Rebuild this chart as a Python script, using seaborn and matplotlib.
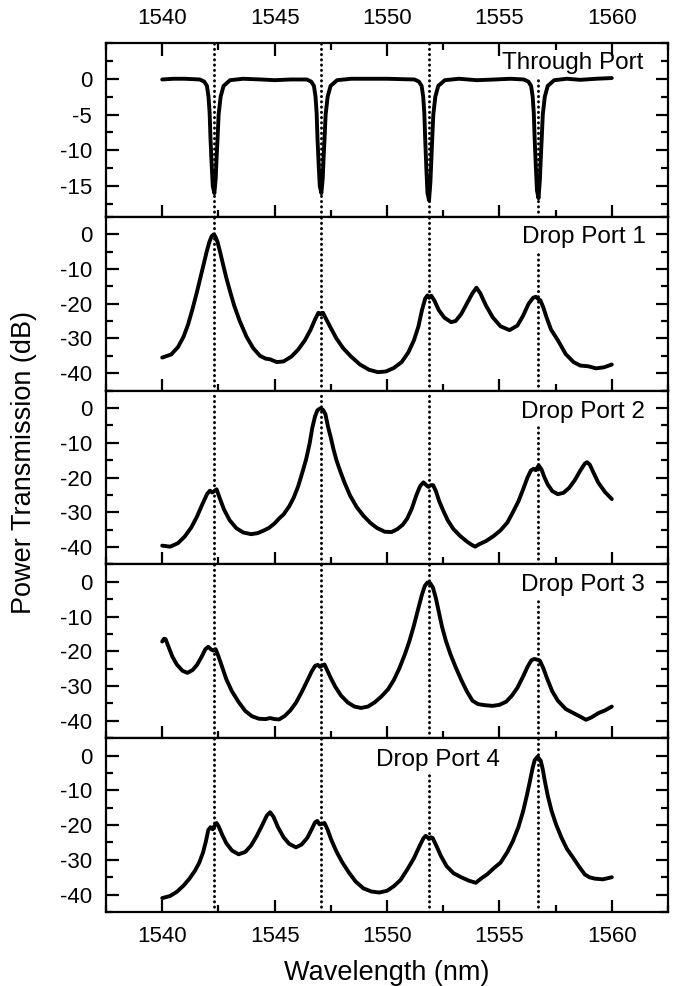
import numpy as np
import pandas as pd
import matplotlib
matplotlib.use("Agg")
import matplotlib.pyplot as plt
import seaborn as sns
from matplotlib.ticker import MultipleLocator

# ---------------------------------------------------------
# Data (wavelength in nm, power in dB)
# ---------------------------------------------------------
resonances = [1542.3, 1547.06, 1551.86, 1556.73]
tick_wl = [1540, 1545, 1550, 1555, 1560]

thru_wl = [1540.0, 1540.5, 1541.0,
           1541.67, 1541.87, 1541.99, 1542.06, 1542.11, 1542.15, 1542.2, 1542.25,
           1542.32, 1542.38, 1542.42, 1542.46, 1542.51, 1542.6, 1542.73, 1543.02,
           1543.6, 1544.4, 1545.0, 1545.7,
           1546.43, 1546.63, 1546.75, 1546.82, 1546.87, 1546.91, 1546.96, 1547.01,
           1547.08, 1547.14, 1547.18, 1547.22, 1547.27, 1547.36, 1547.49, 1547.78,
           1548.4, 1549.2, 1550.0, 1550.6,
           1551.22, 1551.42, 1551.54, 1551.61, 1551.66, 1551.7, 1551.75, 1551.8,
           1551.87, 1551.93, 1551.97, 1552.01, 1552.06, 1552.15, 1552.28, 1552.57,
           1553.2, 1554.0, 1554.8, 1555.5,
           1556.09, 1556.29, 1556.41, 1556.48, 1556.53, 1556.57, 1556.62, 1556.67,
           1556.74, 1556.8, 1556.84, 1556.88, 1556.93, 1557.02, 1557.15, 1557.44,
           1558.0, 1558.6, 1559.3, 1560.0]
thru_db = [-0.1, 0.0, 0.0,
           -0.1, -0.4, -1.0, -2.5, -4.8, -8.5, -12.0, -15.0,
           -16.0, -14.0, -11.0, -8.5, -5.0, -2.5, -1.0, -0.2,
           0.0, -0.1, -0.2, -0.1,
           -0.1, -0.4, -1.0, -2.5, -4.8, -8.5, -12.0, -15.0,
           -16.0, -14.0, -11.0, -8.5, -5.0, -2.5, -1.0, -0.2,
           0.0, 0.0, 0.0, -0.05,
           -0.1, -0.4, -1.0, -2.5, -4.8, -8.5, -12.5, -16.0,
           -17.0, -14.5, -11.5, -8.5, -5.0, -2.5, -1.0, -0.2,
           0.0, -0.2, -0.1, 0.0,
           -0.1, -0.4, -1.0, -2.5, -4.8, -8.5, -12.2, -15.6,
           -16.7, -14.2, -11.2, -8.5, -5.0, -2.5, -1.0, -0.2,
           0.0, -0.15, 0.0, 0.1]

drop1_wl = [1540.0, 1540.4, 1540.7, 1540.95, 1541.15, 1541.35, 1541.55, 1541.7, 1541.85,
            1541.98, 1542.1, 1542.2, 1542.28, 1542.36, 1542.46, 1542.57, 1542.7, 1542.85,
            1543.02, 1543.2, 1543.45, 1543.75, 1544.05, 1544.35, 1544.6, 1544.8, 1545.1,
            1545.4, 1545.75, 1546.05, 1546.35, 1546.6, 1546.8, 1546.95, 1547.05, 1547.15,
            1547.3, 1547.5, 1547.75, 1548.05, 1548.4, 1548.8, 1549.2, 1549.6, 1549.95,
            1550.3, 1550.65, 1550.95, 1551.2, 1551.4, 1551.55, 1551.7, 1551.8, 1551.88,
            1551.97, 1552.1, 1552.3, 1552.55, 1552.85, 1553.05, 1553.3, 1553.55, 1553.8,
            1553.98, 1554.15, 1554.4, 1554.7, 1555.05, 1555.45, 1555.8, 1556.05, 1556.3,
            1556.5, 1556.62, 1556.72, 1556.82, 1556.95, 1557.1, 1557.3, 1557.6, 1557.95,
            1558.3, 1558.6, 1558.95, 1559.3, 1559.65, 1560.0]
drop1_db = [-35.5, -34.6, -32.5, -29.5, -26.0, -21.5, -16.5, -12.5, -8.5,
            -5.0, -2.2, -0.6, -0.1, -0.6, -2.2, -5.0, -8.5, -12.5,
            -16.5, -20.5, -25.0, -29.5, -32.8, -35.0, -35.8, -36.0, -36.8,
            -36.6, -35.2, -33.2, -30.5, -27.5, -24.5, -22.6, -23.0, -22.6,
            -24.5, -27.0, -30.0, -32.8, -35.2, -37.5, -39.0, -39.7, -39.5,
            -38.5, -36.8, -34.0, -30.5, -26.5, -22.0, -18.5, -17.6, -18.3,
            -17.7, -19.0, -21.8, -24.0, -25.3, -25.0, -23.0, -20.0, -17.0,
            -15.4, -17.0, -20.5, -23.9, -26.5, -27.6, -26.3, -23.5, -20.0,
            -18.3, -18.0, -18.6, -19.0, -21.0, -24.0, -27.5, -30.5, -34.5,
            -36.8, -37.8, -38.0, -38.6, -38.3, -37.5]

drop2_wl = [1540.0, 1540.35, 1540.7, 1541.0, 1541.3, 1541.55, 1541.8, 1542.0, 1542.12,
            1542.22, 1542.3, 1542.42, 1542.55, 1542.75, 1543.0, 1543.3, 1543.6, 1543.95,
            1544.25, 1544.5, 1544.75, 1545.0, 1545.2, 1545.4, 1545.65, 1545.85, 1546.05,
            1546.25, 1546.4, 1546.55, 1546.68, 1546.8, 1546.9, 1547.03, 1547.15, 1547.26,
            1547.38, 1547.5, 1547.62, 1547.75, 1547.92, 1548.1, 1548.35, 1548.65, 1548.95,
            1549.25, 1549.55, 1549.9, 1550.2, 1550.45, 1550.7, 1550.9, 1551.1, 1551.3,
            1551.47, 1551.62, 1551.75, 1551.84, 1551.95, 1552.05, 1552.18, 1552.32, 1552.5,
            1552.7, 1552.95, 1553.25, 1553.55, 1553.75, 1553.92, 1554.1, 1554.4, 1554.75,
            1555.05, 1555.35, 1555.6, 1555.85, 1556.05, 1556.25, 1556.4, 1556.52, 1556.62,
            1556.75, 1556.88, 1557.0, 1557.15, 1557.35, 1557.6, 1557.85, 1558.1, 1558.35,
            1558.6, 1558.8, 1558.9, 1559.02, 1559.2, 1559.4, 1559.7, 1560.0]
drop2_db = [-39.6, -39.9, -38.9, -37.0, -34.3, -31.2, -27.5, -24.7, -23.8,
            -24.3, -24.0, -23.4, -25.8, -29.2, -32.3, -34.6, -35.8, -36.3,
            -36.0, -35.3, -34.5, -33.2, -31.8, -30.6, -28.3, -25.8, -22.5,
            -18.2, -14.8, -10.5, -5.6, -2.4, -0.7, -0.1, -0.5, -1.8,
            -5.5, -8.5, -11.9, -15.0, -18.2, -21.3, -25.1, -28.5, -31.0,
            -33.0, -34.5, -35.6, -35.7, -34.9, -33.6, -31.8, -29.0, -25.2,
            -22.5, -21.4, -22.2, -22.7, -22.2, -22.2, -24.0, -26.8, -29.5,
            -32.3, -34.8, -36.8, -38.4, -39.3, -39.9, -39.2, -38.3, -36.8,
            -35.2, -33.0, -30.0, -26.8, -23.5, -20.0, -18.0, -17.5, -17.9,
            -16.5, -17.8, -19.9, -22.0, -23.9, -24.8, -24.4, -23.0, -20.8,
            -18.0, -16.0, -15.6, -16.3, -18.8, -21.5, -24.2, -26.2]

drop3_wl = [1540.0, 1540.08, 1540.15, 1540.3, 1540.45, 1540.65, 1540.9, 1541.12, 1541.35,
            1541.55, 1541.75, 1541.92, 1542.05, 1542.18, 1542.28, 1542.38, 1542.5, 1542.65,
            1542.85, 1543.1, 1543.4, 1543.7, 1544.0, 1544.3, 1544.6, 1544.8, 1545.0,
            1545.2, 1545.45, 1545.7, 1545.95, 1546.2, 1546.45, 1546.65, 1546.8, 1546.92,
            1547.02, 1547.12, 1547.22, 1547.35, 1547.5, 1547.7, 1547.95, 1548.25, 1548.55,
            1548.85, 1549.15, 1549.45, 1549.75, 1550.05, 1550.3, 1550.55, 1550.8, 1551.0,
            1551.2, 1551.38, 1551.55, 1551.68, 1551.8, 1551.92, 1552.04, 1552.17, 1552.3,
            1552.45, 1552.62, 1552.82, 1553.05, 1553.3, 1553.55, 1553.8, 1554.05, 1554.35,
            1554.7, 1555.0, 1555.3, 1555.55, 1555.8, 1556.05, 1556.25, 1556.42, 1556.55,
            1556.68, 1556.8, 1556.95, 1557.12, 1557.35, 1557.6, 1557.95, 1558.3, 1558.6,
            1558.85, 1559.1, 1559.4, 1559.7, 1560.0]
drop3_db = [-17.2, -16.4, -16.5, -19.0, -21.5, -23.8, -25.6, -26.2, -25.4,
            -23.9, -21.6, -19.4, -18.7, -19.5, -19.8, -19.4, -21.4, -24.2,
            -28.0, -31.5, -34.6, -37.2, -38.7, -39.4, -39.5, -39.2, -39.5,
            -39.6, -38.6, -37.0, -34.8, -31.8, -28.5, -25.8, -24.2, -23.9,
            -24.5, -24.1, -23.8, -25.6, -27.7, -30.2, -32.7, -34.7, -35.9,
            -36.3, -35.9, -34.7, -33.0, -30.9, -28.3, -24.9, -20.8, -17.0,
            -12.5, -8.0, -3.8, -1.2, -0.2, -0.4, -1.6, -4.6, -8.5,
            -13.0, -17.0, -20.8, -24.5, -28.2, -31.5, -34.2, -35.2, -35.5,
            -35.7, -35.4, -34.5, -32.8, -30.5, -27.3, -24.5, -22.6, -22.2,
            -22.4, -22.7, -24.8, -27.8, -31.5, -34.2, -36.6, -37.8, -38.8,
            -39.7, -39.0, -37.8, -37.0, -35.9]

drop4_wl = [1540.0, 1540.35, 1540.65, 1540.95, 1541.2, 1541.45, 1541.65, 1541.82, 1541.95,
            1542.05, 1542.15, 1542.25, 1542.32, 1542.42, 1542.52, 1542.67, 1542.85, 1543.1,
            1543.4, 1543.7, 1543.95, 1544.2, 1544.45, 1544.65, 1544.8, 1544.95, 1545.15,
            1545.4, 1545.65, 1545.95, 1546.2, 1546.45, 1546.65, 1546.8, 1546.9, 1547.0,
            1547.12, 1547.22, 1547.35, 1547.52, 1547.75, 1548.0, 1548.3, 1548.6, 1548.95,
            1549.3, 1549.65, 1550.0, 1550.3, 1550.6, 1550.9, 1551.2, 1551.45, 1551.62,
            1551.72, 1551.82, 1551.87, 1551.95, 1552.03, 1552.2, 1552.4, 1552.65, 1552.95,
            1553.3, 1553.65, 1553.95, 1554.2, 1554.45, 1554.75, 1555.05, 1555.35, 1555.6,
            1555.85, 1556.06, 1556.22, 1556.36, 1556.47, 1556.57, 1556.7, 1556.84, 1556.93,
            1557.02, 1557.15, 1557.32, 1557.52, 1557.76, 1558.0, 1558.28, 1558.55, 1558.8,
            1559.0, 1559.24, 1559.6, 1560.0]
drop4_db = [-41.0, -40.4, -39.2, -37.4, -35.5, -33.2, -30.8, -27.8, -24.5,
            -21.4, -20.6, -21.2, -20.3, -19.4, -20.5, -22.8, -25.2, -27.3,
            -28.4, -27.7, -25.9, -23.2, -20.0, -17.3, -16.3, -17.6, -20.6,
            -23.5, -25.4, -26.4, -25.6, -23.7, -21.2, -19.2, -18.8, -19.8,
            -19.6, -19.4, -21.2, -24.2, -27.6, -30.6, -33.6, -36.2, -38.2,
            -39.1, -39.4, -38.9, -37.6, -35.8, -32.8, -29.5, -26.0, -23.8,
            -23.1, -23.6, -24.0, -23.5, -23.7, -26.0, -28.9, -31.8, -33.8,
            -35.0, -36.0, -36.6, -35.3, -34.2, -32.4, -30.8, -27.8, -24.6,
            -20.5, -15.9, -11.5, -7.3, -3.8, -1.3, -0.3, -1.5, -4.0,
            -7.3, -11.5, -15.9, -19.8, -23.6, -26.8, -29.4, -32.0, -34.2,
            -35.0, -35.4, -35.6, -35.0]

port_names = ["Through Port", "Drop Port 1", "Drop Port 2", "Drop Port 3", "Drop Port 4"]


def main():
    sns.set_style("ticks")
    plt.rcParams['font.family'] = ['Liberation Sans', 'DejaVu Sans']
    plt.rcParams['axes.unicode_minus'] = False
    plt.rcParams['text.color'] = 'black'
    plt.rcParams['axes.labelcolor'] = 'black'

    series = [(thru_wl, thru_db), (drop1_wl, drop1_db), (drop2_wl, drop2_db),
              (drop3_wl, drop3_db), (drop4_wl, drop4_db)]

    fig, axes = plt.subplots(5, 1, figsize=(6.83, 9.86), dpi=100, sharex=True)
    fig.subplots_adjust(left=106/683, right=668/683, top=1-43/986,
                        bottom=1-912/986, hspace=0)

    # label placement: (x, y baseline, ha); dotted line hidden above this fraction
    label_pos = [(1561.4, 1.35, 'right'), (1561.5, -2.6, 'right'),
                 (1561.45, -3.0, 'right'), (1561.45, -2.7, 'right'),
                 (1552.25, -2.9, 'center')]
    hidden = [(3, 0.79), (3, 0.81), (3, 0.81), (3, 0.81), (2, 0.81)]

    for i, ax in enumerate(axes):
        wl, db = series[i]
        df = pd.DataFrame({'wl': wl, 'db': db})

        # dotted resonance markers (round dots)
        for j, r in enumerate(resonances):
            top = hidden[i][1] if hidden[i][0] == j else 1
            ax.axvline(r, ymin=0, ymax=top, color='black', lw=2.1,
                       linestyle=(0, (0.1, 1.7)), dash_capstyle='round', zorder=1)

        sns.lineplot(data=df, x='wl', y='db', ax=ax, color='black', lw=2.8,
                     estimator=None, sort=False, zorder=3)

        if i == 0:
            ax.set_ylim(-19.3, 5)
            ax.set_yticks([-15, -10, -5, 0])
            ax.yaxis.set_minor_locator(MultipleLocator(2.5))
        else:
            ax.set_ylim(-45, 5)
            ax.set_yticks([-40, -30, -20, -10, 0])
            ax.yaxis.set_minor_locator(MultipleLocator(5))

        ax.set_xlim(1537.5, 1562.5)
        ax.set_xticks(tick_wl)
        ax.xaxis.set_minor_locator(MultipleLocator(2.5))
        ax.set_xlabel('')
        ax.set_ylabel('')

        lx, ly, ha = label_pos[i]
        ax.text(lx, ly, port_names[i], ha=ha, va='baseline', fontsize=17.5,
                color='black', zorder=4)

        for sp in ax.spines.values():
            sp.set_linewidth(1.6)
            sp.set_color('black')

        ax.tick_params(axis='both', which='major', direction='in', length=9,
                       width=1.6, labelsize=16, pad=10, colors='black')
        ax.tick_params(axis='both', which='minor', direction='in', length=5,
                       width=1.6, colors='black')
        ax.tick_params(axis='y', which='both', left=True, right=True)
        ax.tick_params(axis='x', which='both', bottom=True, top=(i == 0),
                       labelbottom=(i == 4), labeltop=(i == 0))

    fig.text(387/683, 1-973/986, 'Wavelength (nm)', ha='center', va='center',
             fontsize=19.5, color='black')
    fig.text(24/683, 1-462/986, 'Power Transmission (dB)', ha='center', va='center',
             rotation=90, fontsize=19.5, color='black')

    fig.savefig('out.png', dpi=100, facecolor='white')
    plt.close(fig)


if __name__ == "__main__":
    main()
